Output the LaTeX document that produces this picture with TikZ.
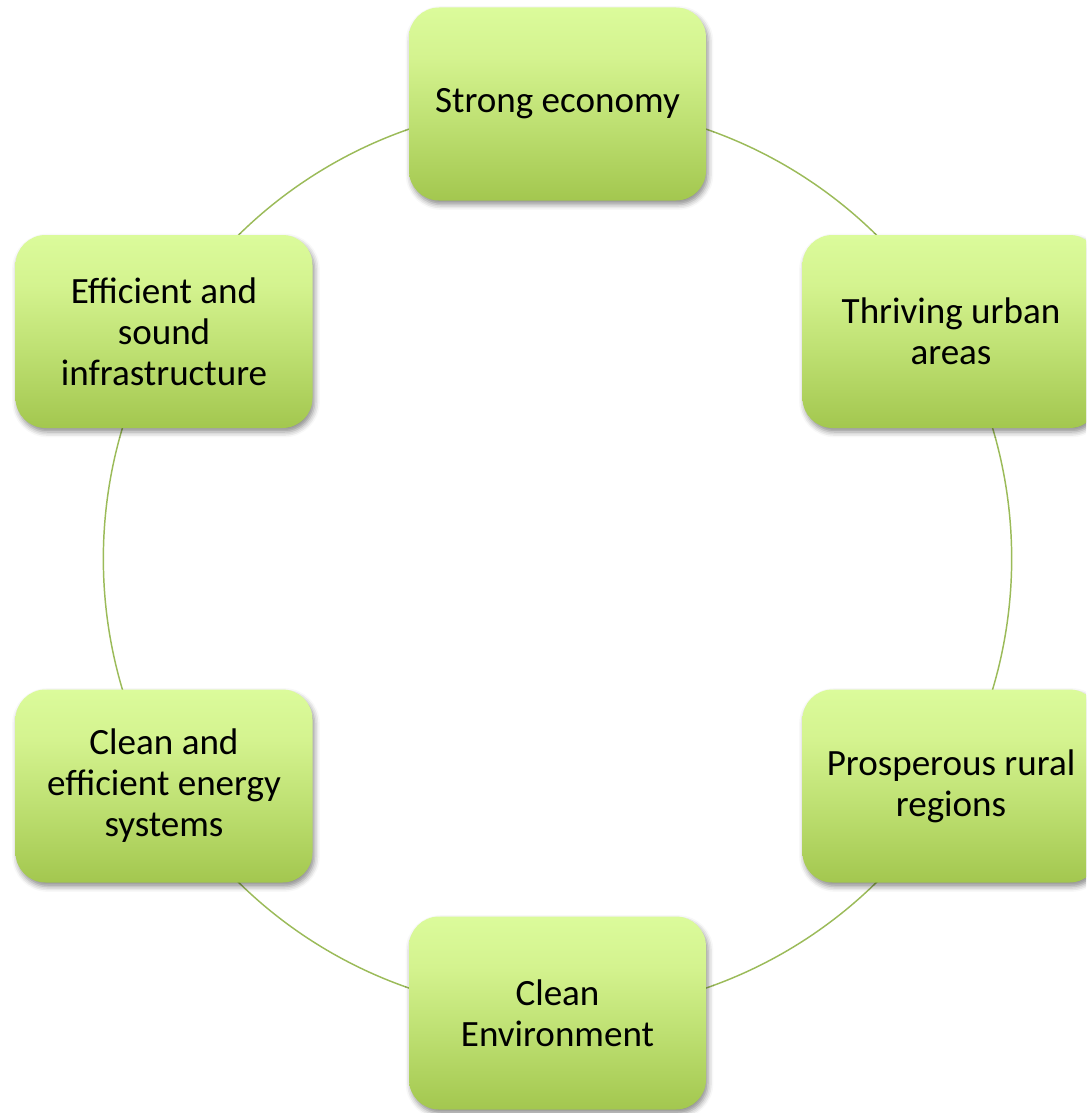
\documentclass[tikz,border=0pt]{standalone}
\usepackage{fontspec}
\setmainfont{Carlito}
\usetikzlibrary{shadows.blur,backgrounds}
\definecolor{linegreen}{HTML}{9BBB59}
\definecolor{gA}{HTML}{A3C74F}
\definecolor{gB}{HTML}{BEE072}
\definecolor{gC}{HTML}{D4F38F}
\definecolor{gD}{HTML}{DBFB9B}
\pgfdeclareverticalshading{boxshade}{100bp}{%
  color(0bp)=(gA);
  color(25bp)=(gA);
  color(45bp)=(gB);
  color(62bp)=(gC);
  color(75bp)=(gD);
  color(100bp)=(gD)}
\tikzset{
  stage/.style={draw=none, rounded corners=22.5pt, shading=boxshade,
    minimum width=222.75pt, minimum height=144.75pt, inner sep=0pt,
    align=center, font=\fontsize{27.8}{30.75}\selectfont, text=black,
    blur shadow={shadow xshift=1.5pt, shadow yshift=-3pt, shadow opacity=45, shadow blur radius=4pt}},
  link/.style={draw=linegreen, line width=1.1pt}
}
\begin{document}
\begin{tikzpicture}[x=0.75pt,y=0.75pt]
\useasboundingbox (0,0) rectangle (1086,-1113);
\clip (0,0) rectangle (1086,-1113);
\node[stage] (eco) at (557.5,-104) {Strong economy};
\node[stage] (urb) at (951,-331.5) {Thriving urban\\areas};
\node[stage] (rur) at (951,-786) {Prosperous rural\\regions};
\node[stage] (env) at (557.5,-1013) {Clean\\Environment};
\node[stage] (ene) at (164,-786) {Clean and\\efficient energy\\systems};
\node[stage] (inf) at (164,-331.5) {Efficient and\\sound\\infrastructure};
\begin{scope}[on background layer]
\draw[link] (eco.center) to[bend left=30, looseness=0.9126] (urb.center);
\draw[link] (urb.center) to[bend left=30, looseness=0.9126] (rur.center);
\draw[link] (rur.center) to[bend left=30, looseness=0.9126] (env.center);
\draw[link] (env.center) to[bend left=30, looseness=0.9126] (ene.center);
\draw[link] (ene.center) to[bend left=30, looseness=0.9126] (inf.center);
\draw[link] (inf.center) to[bend left=30, looseness=0.9126] (eco.center);
\end{scope}
\end{tikzpicture}
\end{document}
